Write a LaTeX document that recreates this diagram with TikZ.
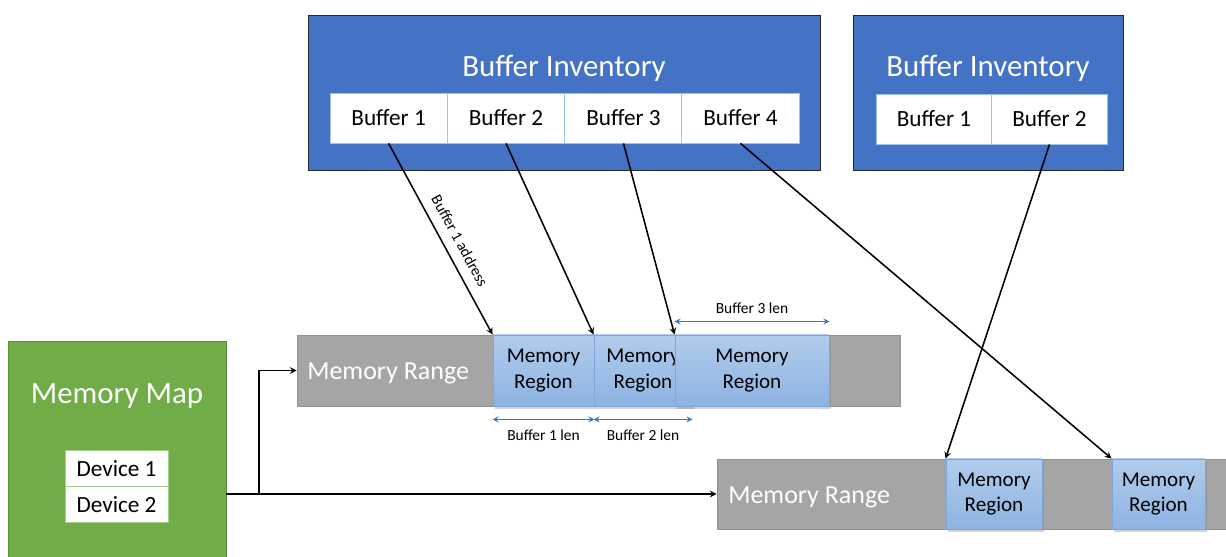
\documentclass[tikz,border=0pt]{standalone}
\usepackage{fontspec}
\setmainfont{Carlito}
\usetikzlibrary{shadows}
\definecolor{invblue}{HTML}{4472C4}
\definecolor{cellline}{HTML}{9DC3E6}
\definecolor{mapgreen}{HTML}{70AD47}
\definecolor{mapline}{HTML}{5B8F3A}
\definecolor{rangegray}{HTML}{A5A5A5}
\definecolor{rangeline}{HTML}{8F8F8F}
\definecolor{regtop}{HTML}{B1CCEC}
\definecolor{regbot}{HTML}{8DB3E2}
\definecolor{regline}{HTML}{7EA6DA}
\begin{document}
\begin{tikzpicture}
[x=0.025cm,y=-0.025cm,
  invdecorate/.style={draw=black!85,line width=0.5pt,fill=invblue,minimum height=3.875cm},%
  titledecorate/.style={text=white,font=\fontsize{22}{26}\selectfont,inner sep=0pt},%
  celldecorate/.style={draw=cellline,line width=0.6pt,fill=white,minimum height=1.25cm,font=\fontsize{16.5}{19}\selectfont},%
  rangedecorate/.style={draw=rangeline,line width=0.5pt,fill=rangegray,minimum height=1.775cm},%
  rangetextdecorate/.style={text=white,font=\fontsize{18.5}{22}\selectfont,inner sep=0pt,anchor=west},%
  regiondecorate/.style={draw=regline,line width=0.6pt,top color=regtop,bottom color=regbot,minimum height=1.775cm,align=center,font=\fontsize{15}{18}\selectfont,drop shadow={opacity=0.35,shadow xshift=0.05cm,shadow yshift=-0.07cm}},%
  arrowdecorate/.style={->,>=stealth,line width=1.1pt},%
  lendecorate/.style={<->,>=stealth,draw=invblue,line width=0.9pt},%
  lentextdecorate/.style={font=\fontsize{11}{13}\selectfont,inner sep=1pt}]
\useasboundingbox (0,0) rectangle (1226,557);
% buffer inventories
\node (inv) at (564,92.5) [invdecorate,minimum width=12.8cm] {};
\node (invtitle) at (564,68) [titledecorate] {Buffer Inventory};
\foreach \i/\x in {1/388.6,2/506,3/623.5,4/740.5}
  \node (buf\i) at (\x,118) [celldecorate,minimum width=2.93cm] {Buffer \i};
\node (invb) at (988,92.5) [invdecorate,minimum width=6.75cm] {};
\node (invbtitle) at (988,68) [titledecorate] {Buffer Inventory};
\foreach \i/\x in {1/934,2/1049.5}
  \node (bufb\i) at (\x,119) [celldecorate,minimum width=2.89cm] {Buffer \i};
% memory map
\node (map) at (117,453) [draw=mapline,line width=0.5pt,fill=mapgreen,minimum width=5.45cm,minimum height=5.6cm] {};
\node (maptitle) at (117,396) [titledecorate] {Memory Map};
\node (dev1) at (116.5,468.5) [celldecorate,draw=mapgreen!60,minimum width=2.575cm,minimum height=0.9cm] {Device 1};
\node (dev2) at (116.5,504.5) [celldecorate,draw=mapgreen!60,minimum width=2.575cm,minimum height=0.9cm] {Device 2};
% memory ranges and regions
\node (range1) at (598.5,370.5) [rangedecorate,minimum width=15.075cm] {};
\node (range1text) at (307,373) [rangetextdecorate] {Memory Range};
\node (reg1) at (543.5,370.5) [regiondecorate,minimum width=2.525cm] {Memory\\Region};
\node (reg2) at (643,370.5) [regiondecorate,minimum width=2.45cm] {Memory\\Region};
\node (reg3) at (752,370.5) [regiondecorate,minimum width=3.85cm] {Memory\\Region};
\node (range2) at (978.5,494) [rangedecorate,minimum width=13.075cm,minimum height=1.75cm] {};
\node (range2text) at (728,497) [rangetextdecorate] {Memory Range};
\node (regb1) at (994,494) [regiondecorate,minimum width=2.4cm,minimum height=1.75cm] {Memory\\Region};
\node (regb2) at (1158.5,494) [regiondecorate,minimum width=2.325cm,minimum height=1.75cm] {Memory\\Region};
% lengths
\draw[lendecorate] ([yshift=-0.325cm]reg1.south west) -- node[below=6pt,lentextdecorate,text=black] {Buffer 1 len} ([yshift=-0.325cm]reg1.south east);
\draw[lendecorate] ([yshift=-0.325cm]reg2.south west) -- node[below=6pt,lentextdecorate,text=black] {Buffer 2 len} ([yshift=-0.325cm]reg2.south east);
\draw[lendecorate] ([yshift=0.325cm]reg3.north west) -- node[above=4pt,lentextdecorate,text=black] {Buffer 3 len} ([yshift=0.325cm]reg3.north east);
% edges or lines
\draw[arrowdecorate] (buf1.south) -- node[pos=0.55,sloped,above=6pt,lentextdecorate] {Buffer 1 address} (reg1.north west);
\draw[arrowdecorate] (buf2.south) -- (reg2.north west);
\draw[arrowdecorate] (buf3.south) -- (reg3.north west);
\draw[arrowdecorate] (buf4.south) -- (regb2.north west);
\draw[arrowdecorate] (bufb2.south) -- (regb1.north west);
\coordinate (split) at (259,494);
\draw[arrowdecorate] (map.east |- range2.west) -- (range2.west);
\draw[arrowdecorate] (split) |- (range1.west);
\end{tikzpicture}
\end{document}
